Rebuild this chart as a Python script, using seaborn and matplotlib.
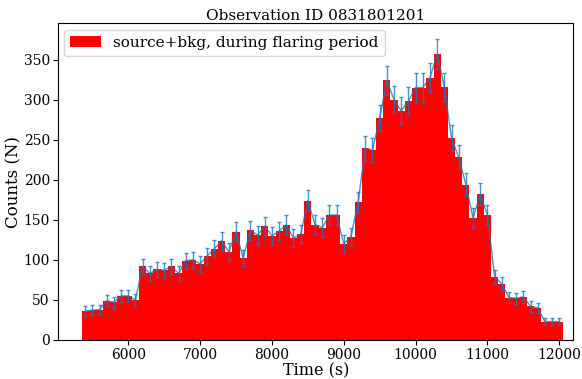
import numpy as np
import pandas as pd
import matplotlib
matplotlib.use("Agg")
import matplotlib.pyplot as plt
import seaborn as sns

# Bin centres (s) and counts
time_centers = [5400, 5500, 5600, 5700, 5800, 5900, 6000, 6100, 6200, 6300,
                6400, 6500, 6600, 6700, 6800, 6900, 7000, 7100, 7200, 7300,
                7400, 7500, 7600, 7700, 7800, 7900, 8000, 8100, 8200, 8300,
                8400, 8500, 8600, 8700, 8800, 8900, 9000, 9100, 9200, 9300,
                9400, 9500, 9600, 9700, 9800, 9900, 10000, 10100, 10200, 10300,
                10400, 10500, 10600, 10700, 10800, 10900, 11000, 11100, 11200, 11300,
                11400, 11500, 11600, 11700, 11800, 11900, 12000]
counts = [36, 37, 38, 49, 47, 55, 55, 50, 92, 83,
          88, 87, 92, 83, 99, 100, 95, 105, 114, 124,
          110, 135, 102, 137, 131, 142, 130, 136, 144, 127,
          132, 174, 144, 140, 156, 156, 120, 129, 172, 239,
          237, 277, 324, 300, 286, 298, 315, 315, 327, 357,
          316, 252, 228, 194, 152, 182, 156, 79, 70, 53,
          52, 54, 42, 40, 23, 23, 23]
bin_width = 100
x_ticks = [6000, 7000, 8000, 9000, 10000, 11000, 12000]
y_ticks = [0, 50, 100, 150, 200, 250, 300, 350]

df = pd.DataFrame({"time": np.array(time_centers, dtype=float),
                   "counts": np.array(counts, dtype=float)})
df["err"] = np.sqrt(df["counts"])
edges = [t - bin_width / 2 for t in time_centers] + [time_centers[-1] + bin_width / 2]

plt.rcParams['font.family'] = ['DejaVu Serif']

fig = plt.figure(figsize=(5.82, 3.79), dpi=100)
ax = fig.add_axes([0.100, 0.103, 0.885, 0.835])

sns.histplot(data=df, x="time", weights="counts", bins=edges, element="step",
             fill=True, color="red", alpha=1.0, linewidth=0, ax=ax,
             label="source+bkg, during flaring period")
ax.errorbar(df["time"], df["counts"], yerr=df["err"], color="C0", linewidth=1.0,
            elinewidth=1.0, capsize=1.5, alpha=0.8)

ax.set_xlim(5025, 12195)
ax.set_ylim(0, 395)
ax.set_xticks(x_ticks)
ax.set_yticks(y_ticks)
ax.tick_params(labelsize=10, pad=2.5)
ax.set_xlabel("Time (s)", fontsize=11.5, labelpad=0)
ax.set_ylabel("Counts (N)", fontsize=12, labelpad=1)
ax.set_title("Observation ID 0831801201", fontsize=11, pad=2)
ax.legend(loc="upper left", fontsize=11, borderaxespad=0.4)

fig.savefig("out.png", dpi=100)
